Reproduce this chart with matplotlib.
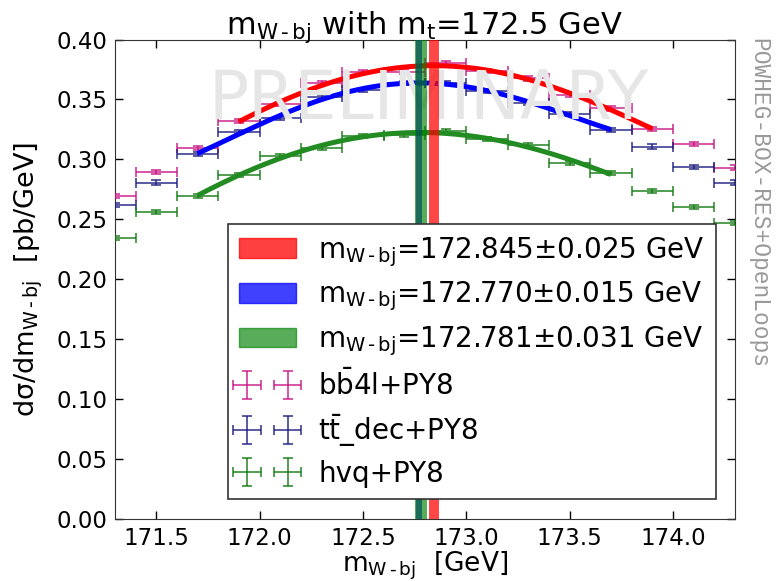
import numpy as np
import matplotlib
matplotlib.use("Agg")
import matplotlib.pyplot as plt
from matplotlib.patches import Patch

plt.rcParams["mathtext.default"] = "regular"
plt.rcParams["font.family"] = ["DejaVu Sans"]

# bin centres of the m_{W-bj} distribution [GeV], bin width 0.2 GeV
bin_centers = [171.3, 171.5, 171.7, 171.9, 172.1, 172.3, 172.5, 172.7,
               172.9, 173.1, 173.3, 173.5, 173.7, 173.9, 174.1, 174.3]
bin_halfwidth = 0.1

# dsigma/dm [pb/GeV]
bb4l = [0.2696, 0.2893, 0.3098, 0.3321, 0.3460, 0.3635, 0.3732, 0.3727,
        0.3807, 0.3740, 0.3676, 0.3537, 0.3426, 0.3254, 0.3127, 0.2932]
ttdec = [0.2621, 0.2807, 0.3046, 0.3227, 0.3343, 0.3518, 0.3580, 0.3635,
         0.3640, 0.3570, 0.3468, 0.3379, 0.3246, 0.3107, 0.2940, 0.2807]
hvq = [0.2346, 0.2562, 0.2696, 0.2871, 0.3029, 0.3093, 0.3196, 0.3204,
       0.3240, 0.3170, 0.3120, 0.2973, 0.2885, 0.2740, 0.2602, 0.2471]
stat_err = [0.0018] * 16

# fitted peak positions and uncertainties [GeV]
peak_bb4l, err_bb4l = 172.845, 0.025
peak_ttdec, err_ttdec = 172.770, 0.015
peak_hvq, err_hvq = 172.781, 0.031

# fit windows [GeV]
fit_bb4l = (171.9, 173.9)
fit_ttdec = (171.7, 173.7)
fit_hvq = (171.7, 173.7)

MW = r"m_{W\,\text{-}\,bj}"

x = np.array(bin_centers)

fig = plt.figure(figsize=(7.76, 5.81), dpi=100)
ax = fig.add_axes([0.148, 0.106, 0.799, 0.826])


def fit_curve(y, window, deg=4):
    y = np.array(y)
    sel = (x >= window[0] - 1e-6) & (x <= window[1] + 1e-6)
    coef = np.polyfit(x[sel], y[sel], deg)
    xs = np.linspace(window[0], window[1], 200)
    return xs, np.polyval(coef, xs)


containers = []
for vals, color in [(bb4l, "#c71585"), (ttdec, "#1c1c80"), (hvq, "#107a10")]:
    c = ax.errorbar(x, vals, xerr=bin_halfwidth, yerr=stat_err, fmt="none",
                    ecolor=color, elinewidth=1.2, capsize=3.5, capthick=1.2,
                    alpha=0.85, zorder=3)
    containers.append(c)

for vals, win, color in [(bb4l, fit_bb4l, "red"), (ttdec, fit_ttdec, "blue"),
                         (hvq, fit_hvq, "#228b22")]:
    xs, ys = fit_curve(vals, win)
    ax.plot(xs, ys, color=color, lw=3.6, zorder=4, solid_capstyle="butt")

ax.text(0.506, 0.874, "PRELIMINARY", transform=ax.transAxes, fontsize=48,
        color="#e6e6e6", ha="center", va="center", zorder=5)

ax.axvspan(peak_ttdec - err_ttdec, peak_ttdec + err_ttdec, color="blue",
           alpha=0.7, lw=0, zorder=6)
ax.axvspan(peak_hvq - err_hvq, peak_hvq + err_hvq, color="green",
           alpha=0.65, lw=0, zorder=7)
ax.axvspan(peak_bb4l - err_bb4l, peak_bb4l + err_bb4l, color="red",
           alpha=0.72, lw=0, zorder=7)

ax.set_xlim(171.3, 174.3)
ax.set_ylim(0.0, 0.40)
ax.set_xticks([171.5, 172.0, 172.5, 173.0, 173.5, 174.0])
ax.set_yticks(np.arange(0, 0.401, 0.05))
ax.yaxis.set_major_formatter(matplotlib.ticker.FormatStrFormatter("%.2f"))
ax.xaxis.set_major_formatter(matplotlib.ticker.FormatStrFormatter("%.1f"))
ax.tick_params(direction="in", top=True, right=True, length=6, width=1,
               labelsize=16.5, pad=5.5)
for s in ax.spines.values():
    s.set_color("#333333")

ax.set_title(r"$%s$ with $m_t$=172.5 GeV" % MW, fontsize=22, pad=4)
ax.set_xlabel(r"$%s$  [GeV]" % MW, fontsize=19, labelpad=0)
ax.set_ylabel(r"d$\sigma$/d$%s$  [pb/GeV]" % MW, fontsize=19.5, labelpad=8)

fig.text(0.978, 0.935, "POWHEG-BOX-RES+OpenLoops", rotation=270,
         ha="center", va="top", fontsize=16.5, color="#999999",
         family="Liberation Mono")

handles = [
    Patch(facecolor="red", edgecolor="red", alpha=0.75),
    Patch(facecolor="blue", edgecolor="blue", alpha=0.75),
    Patch(facecolor="green", edgecolor="green", alpha=0.65),
] + containers
labels = [
    r"$%s$=%.3f$\pm$%.3f GeV" % (MW, peak_bb4l, err_bb4l),
    r"$%s$=%.3f$\pm$%.3f GeV" % (MW, peak_ttdec, err_ttdec),
    r"$%s$=%.3f$\pm$%.3f GeV" % (MW, peak_hvq, err_hvq),
    r"b$\bar{\mathrm{b}}$4l+PY8",
    r"t$\bar{\mathrm{t}}$_dec+PY8",
    "hvq+PY8",
]

leg = ax.legend(handles, labels, loc="lower right",
                bbox_to_anchor=(0.969, 0.043), borderaxespad=0,
                fontsize=20, numpoints=2, fancybox=False, framealpha=1,
                edgecolor="#333333", handlelength=2.05, handletextpad=0.8,
                labelspacing=0.4, borderpad=0.4)
leg.set_zorder(10)
leg.get_frame().set_linewidth(1.2)

fig.savefig("out.png", dpi=100)
